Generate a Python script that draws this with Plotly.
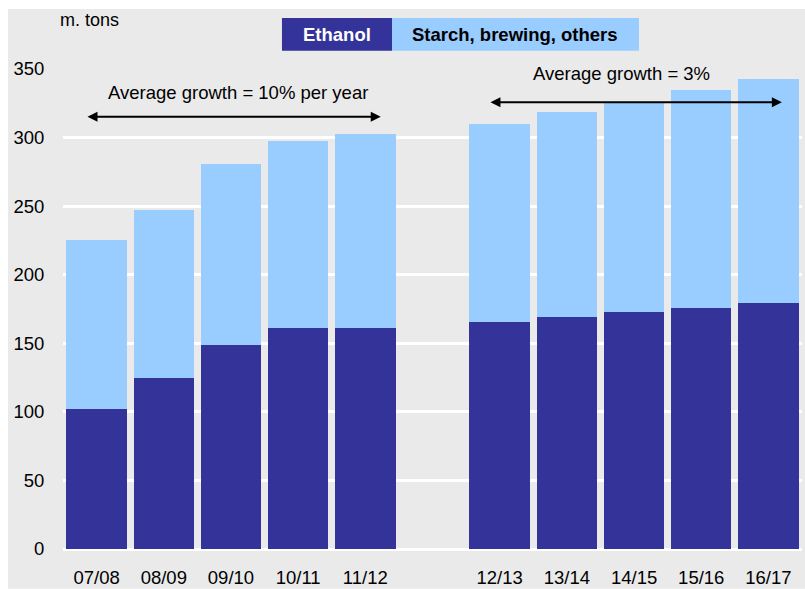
import plotly.graph_objects as go

seasons = ["07/08", "08/09", "09/10", "10/11", "11/12", " ",
           "12/13", "13/14", "14/15", "15/16", "16/17"]
totals = [225, 247, 281, 297.5, 302.5, None, 310, 318.5, 326, 334.5, 342.5]
ethanol = [102, 125, 149, 161, 161, None, 165.5, 169, 173, 176, 179.5]
others = [None if t is None else round(t - e, 1) for t, e in zip(totals, ethanol)]

FONT = "Liberation Sans, Arial, sans-serif"
GRAY = "#eaeaea"
NAVY = "#333399"
LIGHT = "#99ccff"

fig = go.Figure()
fig.add_trace(go.Bar(x=seasons, y=ethanol, name="Ethanol", marker_color=NAVY,
                     marker_line_width=0))
fig.add_trace(go.Bar(x=seasons, y=others, name="Starch, brewing, others",
                     marker_color=LIGHT, marker_line_width=0))

fig.update_layout(
    width=805, height=589,
    barmode="stack", bargap=0.1,
    showlegend=False,
    margin=dict(l=63, r=3, t=69, b=40, autoexpand=False),
    paper_bgcolor="white", plot_bgcolor=GRAY,
    font=dict(family=FONT, size=18.5, color="black"),
)
fig.update_xaxes(type="category", categoryorder="array", categoryarray=seasons,
                 showgrid=False, zeroline=False, showline=False, automargin=False,
                 ticks="outside", ticklen=12, tickcolor="rgba(0,0,0,0)",
                 tickfont=dict(size=18.5, family=FONT, color="black"),
                 range=[-0.5, 10.5])
fig.update_yaxes(range=[0, 350], dtick=50, showgrid=True, gridcolor="white",
                 gridwidth=2.5, zeroline=True, zerolinecolor="white",
                 zerolinewidth=2.5, showline=False, automargin=False,
                 ticks="outside", ticklen=14, tickcolor="rgba(0,0,0,0)",
                 tickfont=dict(size=18.5, family=FONT, color="black"))

# gray panel background
fig.add_shape(type="rect", xref="paper", yref="paper", layer="below",
              x0=-0.0744, x1=1.01, y0=-0.083, y1=1.125,
              fillcolor=GRAY, line_width=0)

# legend boxes
fig.add_shape(type="rect", xref="paper", yref="paper",
              x0=0.2963, x1=0.4452, y0=1.038, y1=1.1063,
              fillcolor=NAVY, line_width=0)
fig.add_shape(type="rect", xref="paper", yref="paper",
              x0=0.4452, x1=0.7794, y0=1.038, y1=1.1063,
              fillcolor=LIGHT, line_width=0)
fig.add_annotation(text="<b>Ethanol</b>", xref="paper", yref="paper",
                   x=0.3708, y=1.0725, showarrow=False,
                   xanchor="center", yanchor="middle",
                   font=dict(size=18.5, color="white", family=FONT))
fig.add_annotation(text="<b>Starch, brewing, others</b>", xref="paper", yref="paper",
                   x=0.6123, y=1.0725, showarrow=False,
                   xanchor="center", yanchor="middle",
                   font=dict(size=18.5, color="black", family=FONT))

fig.add_annotation(text="m. tons", xref="paper", yref="paper",
                   x=0.0352, y=1.102, showarrow=False,
                   xanchor="center", yanchor="middle",
                   font=dict(size=18, color="black", family=FONT))

# growth annotations
fig.add_annotation(text="Average growth = 10% per year", xref="x", yref="y",
                   x=2.105, y=333.2, showarrow=False,
                   xanchor="center", yanchor="middle",
                   font=dict(size=18.5, color="black", family=FONT))
fig.add_annotation(x=4.23, y=315.2, ax=-0.158, ay=315.2,
                   xref="x", yref="y", axref="x", ayref="y",
                   text="", showarrow=True, arrowside="end+start",
                   arrowhead=2, arrowsize=1, arrowwidth=2, arrowcolor="black",
                   standoff=0, startstandoff=0)
fig.add_annotation(text="Average growth = 3%", xref="x", yref="y",
                   x=7.82, y=346.4, showarrow=False,
                   xanchor="center", yanchor="middle",
                   font=dict(size=18.5, color="black", family=FONT))
fig.add_annotation(x=10.2, y=325.7, ax=5.84, ay=325.7,
                   xref="x", yref="y", axref="x", ayref="y",
                   text="", showarrow=True, arrowside="end+start",
                   arrowhead=2, arrowsize=1, arrowwidth=2, arrowcolor="black",
                   standoff=0, startstandoff=0)

fig.write_html("out.html")
